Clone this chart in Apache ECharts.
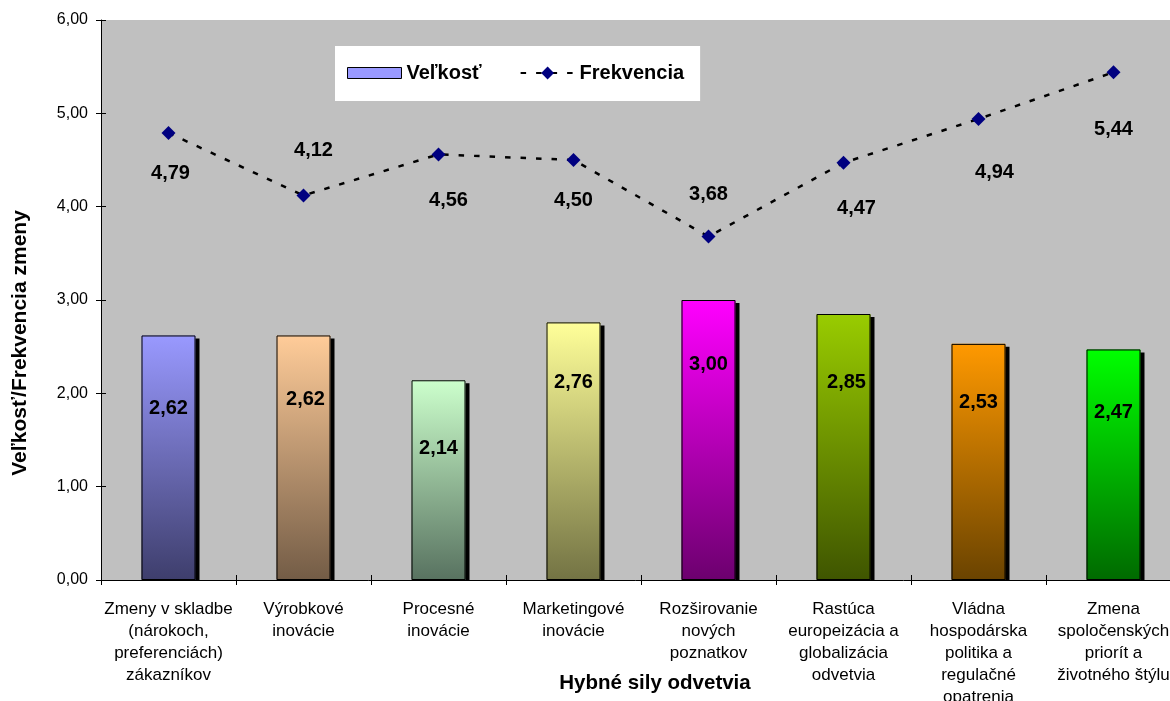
<!DOCTYPE html>
<html>
<head>
<meta charset="utf-8">
<script src="https://cdn.jsdelivr.net/npm/echarts@6/dist/echarts.min.js"></script>
<style>
  html, body { margin: 0; padding: 0; background: #ffffff; }
  #chart { width: 1170px; height: 701px; }
</style>
</head>
<body>
<div id="chart"></div>
<script>
// Driving forces of the sector: size and frequency of change
const categories = [
  'Zmeny v skladbe\n(nárokoch,\npreferenciách)\nzákazníkov',
  'Výrobkové\ninovácie',
  'Procesné\ninovácie',
  'Marketingové\ninovácie',
  'Rozširovanie\nnových\npoznatkov',
  'Rastúca\neuropeizácia a\nglobalizácia\nodvetvia',
  'Vládna\nhospodárska\npolitika a\nregulačné\nopatrenia',
  'Zmena\nspoločenských\npriorít a\nživotného štýlu'
];
const velkost = [2.62, 2.62, 2.14, 2.76, 3.00, 2.85, 2.53, 2.47];
const frekvencia = [4.79, 4.12, 4.56, 4.50, 3.68, 4.47, 4.94, 5.44];
const seriesNames = ['Veľkosť', 'Frekvencia'];
const yAxisTitle = 'Veľkosť/Frekvencia zmeny';
const xAxisTitle = 'Hybné sily odvetvia';
const yMin = 0, yMax = 6, yStep = 1;

// Bar fills: light at the top, darker at the base
const barShades = [
  ['#9999FF', '#3E3E6C'],
  ['#FFCC99', '#735C46'],
  ['#CCFFCC', '#587260'],
  ['#FFFF99', '#737344'],
  ['#FF00FF', '#6C006E'],
  ['#99CC00', '#3F5500'],
  ['#FF9900', '#6A4300'],
  ['#00FF00', '#006A00']
];
// Hand-placed value labels: [dx, dy] (bars: from bar top, line: from marker)
const barLabelShift = [[0, 70], [2, 61], [0, 65], [0, 57], [0, 61], [3, 65], [0, 56], [0, 60]];
const lineLabelShift = [[2, 41], [10, -45], [10, 46], [0, 40], [0, -42], [13, 46], [16, 54], [0, 57]];

const FONT = "'Liberation Sans', Arial, sans-serif";
const fmt = v => v.toFixed(2).replace('.', ',');

const grid = { left: 101, top: 20, width: 1080, height: 560 };

// filled bars carrying the drop shadow (no outline, so the outline casts none)
const barFillData = velkost.map((v, i) => ({
  value: v,
  itemStyle: {
    color: {
      type: 'linear', x: 0, y: 0, x2: 0, y2: 1,
      colorStops: [
        { offset: 0, color: barShades[i][0] },
        { offset: 1, color: barShades[i][1] }
      ]
    },
    shadowColor: '#000000',
    shadowBlur: 0,
    shadowOffsetX: 4,
    shadowOffsetY: 3
  }
}));

// outlines and value labels drawn over the same bars
const barEdgeData = velkost.map((v, i) => ({
  value: v,
  label: { offset: [barLabelShift[i][0], barLabelShift[i][1] - 7] }
}));

const lineData = frekvencia.map((v, i) => ({
  value: v,
  label: { offset: lineLabelShift[i] }
}));

const valueLabel = {
  show: true,
  color: '#000000',
  fontFamily: FONT,
  fontWeight: 'bold',
  fontSize: 20,
  formatter: p => fmt(p.value)
};

const chart = echarts.init(document.getElementById('chart'), null, { renderer: 'canvas' });

chart.setOption({
  animation: false,
  backgroundColor: '#ffffff',
  textStyle: { fontFamily: FONT },
  grid: Object.assign({
    show: true, backgroundColor: '#C0C0C0', borderWidth: 0,
    containLabel: false, outerBoundsMode: 'none'
  }, grid),
  legend: {
    left: 335,
    top: 46,
    padding: [17, 16, 18, 12],
    backgroundColor: '#ffffff',
    itemGap: 38,
    itemWidth: 54,
    itemHeight: 16,
    data: [
      {
        name: seriesNames[0],
        icon: 'path://M0,0L54,0L54,11L0,11Z',
        itemStyle: { color: '#9999FF', borderColor: '#000000', borderWidth: 1 }
      },
      { name: seriesNames[1] }
    ],
    textStyle: { color: '#000000', fontFamily: FONT, fontWeight: 'bold', fontSize: 20 }
  },
  xAxis: [
    {
      type: 'category',
      data: categories,
      z: 10,
      axisLine: { lineStyle: { color: '#000000', width: 1 } },
      axisTick: { show: true, length: 5, lineStyle: { color: '#000000' } },
      axisLabel: {
        color: '#000000', fontFamily: FONT, fontSize: 17,
        lineHeight: 22, margin: 18, interval: 0
      },
      splitLine: { show: false }
    },
    {
      type: 'category',
      data: categories,
      position: 'bottom',
      z: 10,
      axisLine: { show: false },
      axisTick: { show: true, inside: true, length: 5, lineStyle: { color: '#000000' } },
      axisLabel: { show: false },
      splitLine: { show: false }
    }
  ],
  yAxis: [
    {
      type: 'value',
      min: yMin, max: yMax, interval: yStep,
      z: 10,
      axisLine: { show: true, lineStyle: { color: '#000000', width: 1 } },
      axisTick: { show: true, length: 5, lineStyle: { color: '#000000' } },
      axisLabel: {
        color: '#000000', fontFamily: FONT, fontSize: 16, margin: 13,
        formatter: v => fmt(v)
      },
      splitLine: { show: false }
    },
    {
      type: 'value',
      min: yMin, max: yMax, interval: yStep,
      position: 'left',
      z: 10,
      axisLine: { show: false },
      axisTick: { show: true, inside: true, length: 5, lineStyle: { color: '#000000' } },
      axisLabel: { show: false },
      splitLine: { show: false }
    }
  ],
  graphic: [
    // keeps the bar shadows from showing below the category axis
    {
      type: 'rect', z: 5, silent: true,
      shape: { x: grid.left, y: grid.top + grid.height + 1, width: grid.width, height: 4 },
      style: { fill: '#ffffff' }
    },
    {
      type: 'text', z: 10, silent: true,
      x: 20, y: 343, rotation: Math.PI / 2,
      style: {
        text: yAxisTitle, fill: '#000000', align: 'center', verticalAlign: 'middle',
        font: 'bold 21px ' + FONT
      }
    },
    {
      type: 'text', z: 10, silent: true,
      x: 655, y: 683,
      style: {
        text: xAxisTitle, fill: '#000000', align: 'center', verticalAlign: 'middle',
        font: 'bold 20.5px ' + FONT
      }
    }
  ],
  series: [
    {
      name: seriesNames[0],
      type: 'bar',
      xAxisIndex: 0,
      yAxisIndex: 0,
      barWidth: 54,
      barGap: '-100%',
      data: barFillData,
      itemStyle: { color: '#9999FF' },
      emphasis: { disabled: true }
    },
    {
      name: seriesNames[0],
      type: 'bar',
      xAxisIndex: 0,
      yAxisIndex: 0,
      barWidth: 54,
      barGap: '-100%',
      data: barEdgeData,
      itemStyle: { color: 'rgba(0,0,0,0)', borderColor: '#000000', borderWidth: 1 },
      label: Object.assign({}, valueLabel, { position: 'insideTop', distance: 0 }),
      emphasis: { disabled: true }
    },
    {
      name: seriesNames[1],
      type: 'line',
      xAxisIndex: 0,
      yAxisIndex: 0,
      data: lineData,
      symbol: 'diamond',
      symbolSize: 14,
      itemStyle: { color: '#000080' },
      lineStyle: { color: '#000000', width: 2.5, type: [5.5, 10] },
      label: Object.assign({}, valueLabel, { position: 'inside', align: 'center', verticalAlign: 'middle' }),
      emphasis: { disabled: true }
    }
  ]
});
</script>
</body>
</html>
